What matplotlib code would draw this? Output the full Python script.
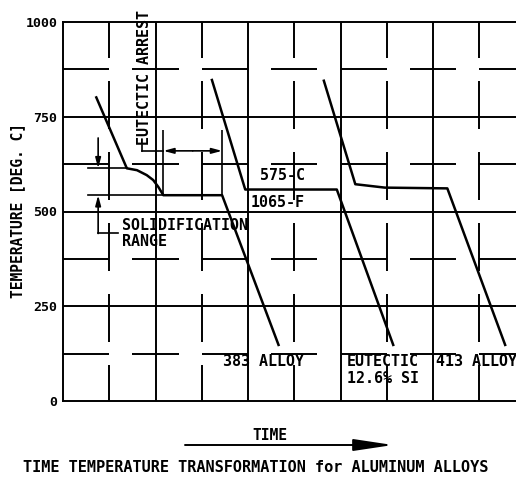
import numpy as np
import matplotlib
matplotlib.use("Agg")
import matplotlib.pyplot as plt

# cooling curves: time in grid units, temperature in deg C
alloy383_time = [0.36, 0.69, 0.80, 0.905, 0.975, 1.03, 1.085, 1.72, 2.33]
alloy383_temp = [801, 614, 609, 596, 583, 565, 543, 543, 148]

eutectic_time = [1.61, 1.97, 2.96, 3.57]
eutectic_temp = [847, 558, 558, 148]

alloy413_time = [2.82, 3.16, 3.48, 4.155, 4.78]
alloy413_temp = [845, 572, 563, 561, 148]

temp_ticks = [0, 250, 500, 750, 1000]
temp_labels = ["0", "250", "500", "750", "1000"]

# solidification range of the 383 alloy (liquidus / solidus)
liquidus = 614
solidus = 543

plt.rcParams["font.family"] = ["DejaVu Sans Mono", "DejaVu Sans"]
plt.rcParams["font.weight"] = "bold"

W, H = 516, 478
fig = plt.figure(figsize=(W / 100, H / 100), dpi=100)
ax = fig.add_axes([63 / W, 1 - 401 / H, 1 - 63 / W, 379 / H])
xmax = 453 / 92.5
ax.set_xlim(0, xmax)
ax.set_ylim(0, 1000)

LW = 1.4
for side in ["left", "top", "bottom"]:
    ax.spines[side].set_linewidth(LW)
ax.spines["right"].set_visible(False)

ax.set_xticks([])
ax.set_yticks(temp_ticks)
ax.set_yticklabels(temp_labels)
ax.tick_params(axis="y", length=0, pad=4, labelsize=9.5)


def dash_segments(lo, hi, first_gap, period, gap):
    """Start/end of the dashes of a drafting-style broken line."""
    centres = np.arange(first_gap, hi + period, period)
    starts = np.concatenate([[lo], centres + gap / 2])
    ends = np.concatenate([centres - gap / 2, [hi + period]])
    starts = np.clip(starts, lo, hi)
    ends = np.clip(ends, lo, hi)
    keep = ends > starts
    return starts[keep], ends[keep]


# solid grid every 250 deg / every time unit
for x in [1, 2, 3, 4]:
    ax.axvline(x, color="k", lw=LW)
for y in [250, 500, 750]:
    ax.axhline(y, color="k", lw=LW)

# broken grid lines halfway between
xs, xe = dash_segments(0, xmax, 0.625, 0.75, 0.25)
for y in [125, 375, 625, 875]:
    ax.hlines([y] * len(xs), xs, xe, color="k", lw=LW)
ys, ye = dash_segments(0, 1000, 125, 187.5, 62.5)
for x in [0.5, 1.5, 2.5, 3.5, 4.5]:
    ax.vlines([x] * len(ys), ys, ye, color="k", lw=LW)

# cooling curves
for t, temp in [(alloy383_time, alloy383_temp),
                (eutectic_time, eutectic_temp),
                (alloy413_time, alloy413_temp)]:
    ax.plot(t, temp, color="k", lw=1.8, solid_joinstyle="round")

fs = 10.8
arrow_kw = dict(arrowstyle="-|>,head_length=0.6,head_width=0.16",
                color="k", lw=1.2, shrinkA=0, shrinkB=0)

# eutectic arrest dimension on the 383 curve
t0, t1 = alloy383_time[6], alloy383_time[7]
ax.vlines([t0, t1], solidus, 715, color="k", lw=1.2)
ax.plot([0.851, t0], [660, 660], color="k", lw=1.2)
ax.plot([0.851, 0.851], [660, 675], color="k", lw=1.2)
ax.annotate("", xy=(t0, 660), xytext=((t0 + t1) / 2, 660), arrowprops=arrow_kw)
ax.annotate("", xy=(t1, 660), xytext=((t0 + t1) / 2, 660), arrowprops=arrow_kw)
ax.text(0.876, 675, "EUTECTIC ARREST", rotation=90, ha="center", va="bottom",
        fontsize=fs)

# solidification range
ax.plot([0.27, alloy383_time[1]], [liquidus, liquidus], color="k", lw=1.2)
ax.plot([0.27, t0], [solidus, solidus], color="k", lw=1.2)
ax.annotate("", xy=(0.38, liquidus), xytext=(0.38, 694), arrowprops=arrow_kw)
ax.annotate("", xy=(0.38, solidus), xytext=(0.38, 442), arrowprops=arrow_kw)
ax.plot([0.38, 0.598], [442, 442], color="k", lw=1.2)
ax.text(0.634, 464, "SOLIDIFICATION", ha="left", va="center", fontsize=fs)
ax.text(0.634, 422, "RANGE", ha="left", va="center", fontsize=fs)

ax.text(2.378, 594, "575-C", ha="center", va="center", fontsize=fs)
ax.text(2.324, 525, "1065-F", ha="center", va="center", fontsize=fs)

ax.text(2.17, 103, "383 ALLOY", ha="center", va="center", fontsize=fs)
ax.text(3.066, 103, "EUTECTIC", ha="left", va="center", fontsize=fs)
ax.text(3.066, 59, "12.6% SI", ha="left", va="center", fontsize=fs)
ax.text(4.03, 103, "413 ALLOY", ha="left", va="center", fontsize=fs)

fig.text(18 / W, 1 - 210 / H, "TEMPERATURE [DEG. C]", rotation=90,
         ha="center", va="center", fontsize=10.5)

# time arrow and caption under the chart
fig.text(270 / W, 1 - 435 / H, "TIME", ha="center", va="center", fontsize=10.5)
ax.annotate("", xy=(393 / W, 1 - 445 / H), xytext=(185 / W, 1 - 445 / H),
            xycoords="figure fraction", textcoords="figure fraction",
            arrowprops=dict(arrowstyle="-|>,head_length=2.4,head_width=0.36",
                            color="k", lw=1.4, shrinkA=0, shrinkB=0))
fig.text(256 / W, 1 - 467.5 / H,
         "TIME TEMPERATURE TRANSFORMATION for ALUMINUM ALLOYS",
         ha="center", va="center", fontsize=11)

fig.savefig("out.png", dpi=100, facecolor="white")
